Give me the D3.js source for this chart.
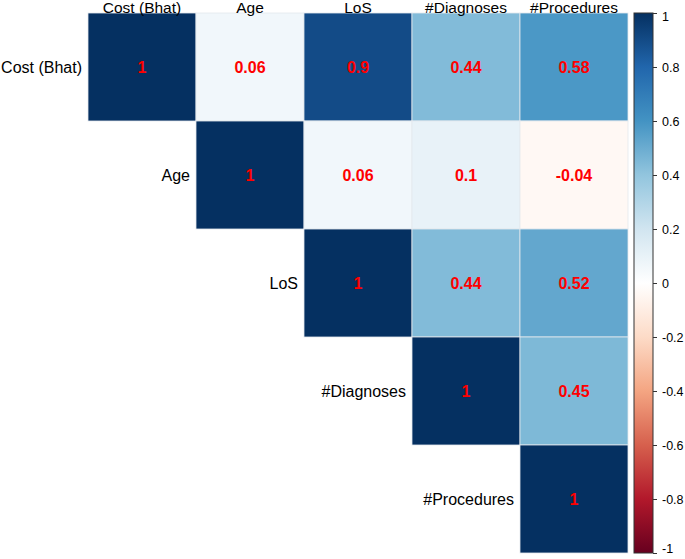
<!DOCTYPE html>
<html>
<head>
<meta charset="utf-8">
<script src="https://cdn.jsdelivr.net/npm/d3@7"></script>
<style>
  body { margin: 0; background: #fff; }
  text { font-family: "Liberation Sans", Arial, sans-serif; }
</style>
</head>
<body>
<div id="chart"></div>
<script>
// variables in the correlation matrix
const variables = ['Cost (Bhat)', 'Age', 'LoS', '#Diagnoses', '#Procedures'];

// upper triangle, one row per variable, starting at the diagonal
const rowCost = [1, 0.06, 0.9, 0.44, 0.58];
const rowAge = [1, 0.06, 0.1, -0.04];
const rowLoS = [1, 0.44, 0.52];
const rowDiagnoses = [1, 0.45];
const rowProcedures = [1];

// colour bar ticks
const legendTicks = [1, 0.8, 0.6, 0.4, 0.2, 0, -0.2, -0.4, -0.6, -0.8, -1];

// RdBu palette (as used by corrplot), from -1 to 1
const paletteColors = ['#67001F', '#B2182B', '#D6604D', '#F4A582', '#FDDBC7', '#FFFFFF',
                       '#D1E5F0', '#92C5DE', '#4393C3', '#2166AC', '#053061'];

const width = 685, height = 559;
const gridLeft = 88, gridTop = 13, gridSize = 540;

const svg = d3.select('#chart').append('svg')
    .attr('width', width)
    .attr('height', height);

const x = d3.scaleBand().domain(variables).range([gridLeft, gridLeft + gridSize]);
const y = d3.scaleBand().domain(variables).range([gridTop, gridTop + gridSize]);

const color = d3.scaleLinear()
    .domain(d3.range(paletteColors.length).map(i => -1 + i * 2 / (paletteColors.length - 1)))
    .range(paletteColors);

// flatten rows into cells
const rows = [rowCost, rowAge, rowLoS, rowDiagnoses, rowProcedures];
const cells = [];
rows.forEach((vals, r) => {
    vals.forEach((v, k) => {
        cells.push({ row: variables[r], col: variables[r + k], value: v });
    });
});

// cells
svg.append('g').selectAll('rect')
    .data(cells)
    .join('rect')
    .attr('x', d => x(d.col))
    .attr('y', d => y(d.row))
    .attr('width', x.bandwidth())
    .attr('height', y.bandwidth())
    .attr('fill', d => color(d.value))
    .attr('stroke', '#e4e8ee')
    .attr('stroke-width', 0.8);

// coefficients
svg.append('g').selectAll('text')
    .data(cells)
    .join('text')
    .attr('x', d => x(d.col) + x.bandwidth() / 2)
    .attr('y', d => y(d.row) + y.bandwidth() / 2)
    .attr('text-anchor', 'middle')
    .attr('dominant-baseline', 'central')
    .attr('fill', '#FF0000')
    .attr('font-weight', 'bold')
    .attr('font-size', '16px')
    .text(d => d.value);

// column labels along the top
svg.append('g').selectAll('text')
    .data(variables)
    .join('text')
    .attr('x', d => x(d) + x.bandwidth() / 2)
    .attr('y', gridTop)
    .attr('text-anchor', 'middle')
    .attr('font-size', '15.5px')
    .attr('fill', '#000')
    .text(d => d);

// row labels next to the diagonal
svg.append('g').selectAll('text')
    .data(variables)
    .join('text')
    .attr('x', d => x(d) - 6)
    .attr('y', d => y(d) + y.bandwidth() / 2)
    .attr('text-anchor', 'end')
    .attr('dominant-baseline', 'central')
    .attr('font-size', '16px')
    .attr('fill', '#000')
    .text(d => d);

// colour bar
const barLeft = 634, barWidth = 19;
const legendScale = d3.scaleLinear().domain([1, -1]).range([gridTop, gridTop + gridSize]);

const grad = svg.append('defs').append('linearGradient')
    .attr('id', 'corrGrad')
    .attr('x1', 0).attr('y1', 1).attr('x2', 0).attr('y2', 0);
grad.selectAll('stop')
    .data(paletteColors)
    .join('stop')
    .attr('offset', (d, i) => i / (paletteColors.length - 1))
    .attr('stop-color', d => d);

svg.append('rect')
    .attr('x', barLeft)
    .attr('y', gridTop)
    .attr('width', barWidth)
    .attr('height', gridSize)
    .attr('fill', 'url(#corrGrad)')
    .attr('stroke', '#333')
    .attr('stroke-width', 1);

const legendAxis = d3.axisRight(legendScale)
    .tickValues(legendTicks)
    .tickSize(4)
    .tickFormat(d => String(+d.toFixed(1)));

const ag = svg.append('g')
    .attr('transform', `translate(${barLeft + barWidth},0)`)
    .call(legendAxis);
ag.select('.domain').remove();
ag.selectAll('line').attr('stroke', '#333');
ag.selectAll('text')
    .attr('x', 9)
    .attr('font-size', '12.5px')
    .attr('font-family', '"Liberation Sans", Arial, sans-serif')
    .attr('fill', '#000')
    .attr('dy', null)
    .attr('dominant-baseline', 'central')
    .attr('transform', d => d === 1 ? 'translate(0,3)' : d === -1 ? 'translate(0,-5)' : null);
</script>
</body>
</html>
